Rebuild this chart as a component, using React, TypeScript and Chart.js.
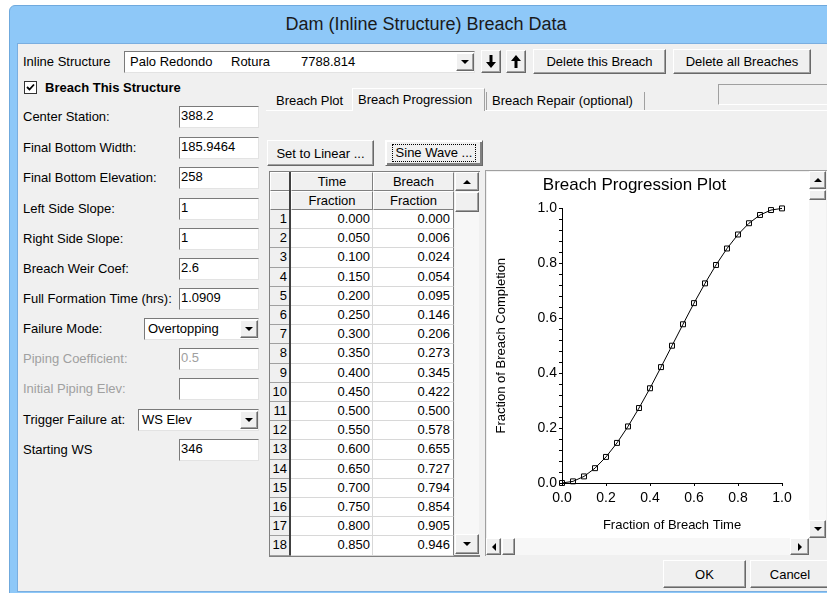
import React, { useEffect, useRef } from 'react';
import { Chart, registerables } from 'chart.js';

Chart.register(...registerables);

// ---------------- data ----------------
const timeFractions = [0.0, 0.05, 0.1, 0.15, 0.2, 0.25, 0.3, 0.35, 0.4, 0.45, 0.5, 0.55, 0.6, 0.65, 0.7, 0.75, 0.8, 0.85, 0.9, 0.95, 1.0];
const breachFractions = [0.0, 0.006, 0.024, 0.054, 0.095, 0.146, 0.206, 0.273, 0.345, 0.422, 0.5, 0.578, 0.655, 0.727, 0.794, 0.854, 0.905, 0.946, 0.976, 0.994, 1.0];
const visibleTableRows = 18;
const chartTitle = 'Breach Progression Plot';
const xAxisTitle = 'Fraction of Breach Time';
const yAxisTitle = 'Fraction of Breach Completion';
const windowTitle = 'Dam (Inline Structure) Breach Data';

const fieldLabels = [
  'Center Station:',
  'Final Bottom Width:',
  'Final Bottom Elevation:',
  'Left Side Slope:',
  'Right Side Slope:',
  'Breach Weir Coef:',
  'Full Formation Time (hrs):',
  'Failure Mode:',
  'Piping Coefficient:',
  'Initial Piping Elev:',
  'Trigger Failure at:',
  'Starting WS',
];
const fieldValues = ['388.2', '185.9464', '258', '1', '1', '2.6', '1.0909', 'Overtopping', '0.5', '', 'WS Elev', '346'];
const fieldKinds = ['text', 'text', 'text', 'text', 'text', 'text', 'text', 'combo', 'disabled', 'disabled', 'combo', 'text'];
const fieldCenters = [117, 148, 178, 209, 239, 269, 299, 329, 359, 389, 420, 450];
const tabLabels = ['Breach Plot', 'Breach Progression', 'Breach Repair (optional)'];

const FONT = "'Liberation Sans', Arial, sans-serif";

type BoxProps = { x: number; y: number; w: number; h: number; style?: React.CSSProperties; children?: React.ReactNode };
const Box = ({ x, y, w, h, style, children }: BoxProps) => (
  <div style={{ position: 'absolute', left: x, top: y, width: w, height: h, boxSizing: 'border-box', ...style }}>{children}</div>
);

const Text = ({ x, cy, children, style }: { x: number; cy: number; children: React.ReactNode; style?: React.CSSProperties }) => (
  <div style={{ position: 'absolute', left: x, top: cy - 8, height: 16, lineHeight: '16px', whiteSpace: 'pre', fontSize: 13, ...style }}>{children}</div>
);

const raised: React.CSSProperties = {
  background: '#f0f0f0',
  border: '1px solid',
  borderColor: '#ffffff #696969 #696969 #ffffff',
  boxShadow: 'inset -1px -1px 0 #a0a0a0',
};
const sunken: React.CSSProperties = {
  background: '#ffffff',
  border: '1px solid',
  borderColor: '#7a7a7a #e3e3e3 #e3e3e3 #7a7a7a',
};

const Button = ({ x, y, w, h, label, focus }: { x: number; y: number; w: number; h: number; label: string; focus?: boolean }) => (
  <Box x={x} y={y} w={w} h={h} style={{ ...raised, ...(focus ? { border: '1px solid #404040', boxShadow: 'inset 1px 1px 0 #fff, inset -2px -2px 0 #808080' } : {}) }}>
    <div style={{ position: 'absolute', left: 0, right: 0, top: 0, bottom: 0, display: 'flex', alignItems: 'center', justifyContent: 'center', fontSize: 13 }}>
      {focus ? (
        <span style={{ border: '1px dotted #000', padding: '0 3px', lineHeight: '16px' }}>{label}</span>
      ) : (
        label
      )}
    </div>
  </Box>
);

const Tri = ({ dir }: { dir: 'up' | 'down' | 'left' | 'right' }) => {
  const s: React.CSSProperties = { width: 0, height: 0 };
  if (dir === 'down') Object.assign(s, { borderLeft: '4px solid transparent', borderRight: '4px solid transparent', borderTop: '4px solid #000' });
  if (dir === 'up') Object.assign(s, { borderLeft: '4px solid transparent', borderRight: '4px solid transparent', borderBottom: '4px solid #000' });
  if (dir === 'left') Object.assign(s, { borderTop: '4px solid transparent', borderBottom: '4px solid transparent', borderRight: '4px solid #000' });
  if (dir === 'right') Object.assign(s, { borderTop: '4px solid transparent', borderBottom: '4px solid transparent', borderLeft: '4px solid #000' });
  return <div style={s} />;
};

const ArrowBtn = ({ x, y, w, h, dir }: { x: number; y: number; w: number; h: number; dir: 'up' | 'down' | 'left' | 'right' }) => (
  <Box x={x} y={y} w={w} h={h} style={raised}>
    <div style={{ position: 'absolute', inset: 0, display: 'flex', alignItems: 'center', justifyContent: 'center' }}>
      <Tri dir={dir} />
    </div>
  </Box>
);

const Combo = ({ x, y, w, h, value, textX }: { x: number; y: number; w: number; h: number; value: React.ReactNode; textX?: number }) => (
  <Box x={x} y={y} w={w} h={h} style={sunken}>
    <div style={{ position: 'absolute', left: textX ?? 2, top: 0, height: h - 2, lineHeight: `${h - 2}px`, fontSize: 13, whiteSpace: 'pre' }}>{value}</div>
    <ArrowBtn x={w - 20} y={1} w={18} h={h - 4} dir="down" />
  </Box>
);

const BoldArrow = ({ up }: { up?: boolean }) => (
  <svg width="10" height="13" viewBox="0 0 10 13" style={{ display: 'block' }}>
    {up ? (
      <path d="M5 0 L10 6 L6.5 6 L6.5 13 L3.5 13 L3.5 6 L0 6 Z" fill="#000" />
    ) : (
      <path d="M5 13 L10 7 L6.5 7 L6.5 0 L3.5 0 L3.5 7 L0 7 Z" fill="#000" />
    )}
  </svg>
);

const ProgressChart = () => {
  const ref = useRef<HTMLCanvasElement | null>(null);
  useEffect(() => {
    if (!ref.current) return;
    const chart = new Chart(ref.current, {
      type: 'line',
      data: {
        datasets: [
          {
            data: timeFractions.map((t, i) => ({ x: t, y: breachFractions[i] })),
            borderColor: '#000',
            borderWidth: 1,
            pointStyle: 'rect',
            pointRadius: 3.5,
            pointBorderWidth: 1,
            pointBorderColor: '#000',
            pointBackgroundColor: 'rgba(255,255,255,0)',
            tension: 0,
            fill: false,
            clip: false,
          },
        ],
      },
      options: {
        responsive: false,
        animation: false,
        devicePixelRatio: 1,
        layout: { padding: { left: 0, right: 27, top: 0, bottom: 0 } },
        plugins: {
          legend: { display: false },
          tooltip: { enabled: false },
          title: {
            display: true,
            text: chartTitle,
            color: '#000',
            font: { family: FONT, size: 17, weight: 'normal' },
            padding: { top: 3, bottom: 13 },
          },
        },
        scales: {
          x: {
            type: 'linear',
            min: 0,
            max: 1,
            afterFit: (s: any) => {
              s.height = 55;
            },
            ticks: {
              stepSize: 0.2,
              color: '#000',
              font: { family: FONT, size: 14 },
              padding: 4,
              maxRotation: 0,
              autoSkip: false,
              callback: (v: any) => Number(v).toFixed(1),
            },
            grid: { drawOnChartArea: false, drawTicks: true, tickLength: 3, color: '#000' },
            border: { display: true, color: '#000', width: 1 },
            title: {
              display: true,
              text: xAxisTitle,
              color: '#000',
              font: { family: FONT, size: 13 },
              padding: { top: 0, bottom: 5 },
            },
          },
          y: {
            type: 'linear',
            min: 0,
            max: 1,
            afterFit: (s: any) => {
              s.width = 75;
            },
            ticks: {
              stepSize: 0.04,
              color: '#000',
              font: { family: FONT, size: 14 },
              padding: 2,
              autoSkip: false,
              callback: (v: any) => {
                const n = Number(v) * 5;
                return Math.abs(n - Math.round(n)) < 1e-6 ? Number(v).toFixed(1) : '';
              },
            },
            grid: { drawOnChartArea: false, drawTicks: true, tickLength: 3, color: '#000' },
            border: { display: true, color: '#000', width: 1 },
            title: {
              display: true,
              text: yAxisTitle,
              color: '#000',
              font: { family: FONT, size: 13 },
              padding: { top: 7, bottom: 0 },
            },
          },
        },
      } as any,
    });
    return () => chart.destroy();
  }, []);
  return <canvas ref={ref} width={322} height={366} style={{ display: 'block', width: 322, height: 366 }} />;
};

export default function App() {
  useEffect(() => {
    document.body.style.margin = '0';
  }, []);

  const rowTop = (i: number) => 210 + i * 19.2;

  return (
    <div style={{ position: 'fixed', left: 0, top: 0, width: 827, height: 593, background: '#ffffff', overflow: 'hidden', fontFamily: FONT, color: '#000' }}>
      {/* window frame */}
      <Box x={9} y={5} w={830} h={590} style={{ background: '#8ec8f8', border: '1px solid #6fa9dd', borderTopLeftRadius: 6 }} />
      <div style={{ position: 'absolute', left: 0, width: 852, top: 12, height: 24, lineHeight: '24px', textAlign: 'center', fontSize: 18, color: '#1a1a1a' }}>{windowTitle}</div>
      {/* client */}
      <Box x={17} y={43} w={812} h={549} style={{ background: '#f0f0f0', borderTop: '1px solid #7aaee0', borderLeft: '1px solid #7aaee0', borderBottom: '1px solid #7aaee0' }} />

      {/* top row */}
      <Text x={23} cy={62}>Inline Structure</Text>
      <Combo
        x={124}
        y={51}
        w={351}
        h={22}
        value={
          <>
            <span style={{ position: 'absolute', left: 3 }}>Palo Redondo</span>
            <span style={{ position: 'absolute', left: 104 }}>Rotura</span>
            <span style={{ position: 'absolute', left: 174 }}>7788.814</span>
          </>
        }
      />
      <Box x={481} y={50} w={20} h={23} style={raised}>
        <div style={{ position: 'absolute', inset: 0, display: 'flex', alignItems: 'center', justifyContent: 'center' }}>
          <BoldArrow />
        </div>
      </Box>
      <Box x={506} y={50} w={20} h={23} style={raised}>
        <div style={{ position: 'absolute', inset: 0, display: 'flex', alignItems: 'center', justifyContent: 'center' }}>
          <BoldArrow up />
        </div>
      </Box>
      <Button x={533} y={49} w={133} h={25} label="Delete this Breach" />
      <Button x={673} y={49} w={138} h={25} label="Delete all Breaches" />

      {/* checkbox */}
      <Box x={24} y={81} w={13} h={13} style={{ background: '#fff', border: '1px solid #333' }}>
        <svg width="11" height="11" viewBox="0 0 11 11" style={{ position: 'absolute', left: 0, top: 0 }}>
          <path d="M2 5 L4.5 7.5 L9 2.5" stroke="#000" strokeWidth="1.8" fill="none" />
        </svg>
      </Box>
      <Text x={45} cy={88} style={{ fontWeight: 'bold' }}>Breach This Structure</Text>

      {/* left form */}
      {fieldLabels.map((lab, i) => {
        const cy = fieldCenters[i];
        const kind = fieldKinds[i];
        const disabled = kind === 'disabled';
        return (
          <React.Fragment key={lab}>
            <Text x={23} cy={cy} style={{ color: disabled ? '#a0a0a0' : '#000' }}>{lab}</Text>
            {kind === 'combo' ? (
              <Combo x={i === 7 ? 144 : 138} y={cy - 11} w={i === 7 ? 115 : 121} h={22} value={fieldValues[i]} textX={3} />
            ) : (
              <Box x={179} y={cy - 11} w={80} h={22} style={sunken}>
                <div style={{ position: 'absolute', left: 1, top: 0, lineHeight: '18px', fontSize: 13, color: disabled ? '#a0a0a0' : '#000' }}>{fieldValues[i]}</div>
              </Box>
            )}
          </React.Fragment>
        );
      })}

      {/* tabs */}
      <Box x={352} y={88} w={133} h={23} style={{ background: '#f0f0f0', borderTop: '1px solid #fff', borderLeft: '1px solid #fff', borderRight: '1px solid #a0a0a0' }} />
      <Text x={276} cy={101}>{tabLabels[0]}</Text>
      <Text x={358} cy={100}>{tabLabels[1]}</Text>
      <Box x={486} y={92} w={1} h={18} style={{ background: '#a0a0a0' }} />
      <Text x={492} cy={101}>{tabLabels[2]}</Text>
      <Box x={644} y={92} w={1} h={18} style={{ background: '#a0a0a0' }} />
      <Box x={266} y={110} w={86} h={1} style={{ background: '#fff' }} />
      <Box x={485} y={110} w={342} h={1} style={{ background: '#fff' }} />
      <Box x={718} y={84} w={115} h={21} style={{ border: '1px solid', borderColor: '#a0a0a0 #fff #fff #a0a0a0' }} />

      {/* progression buttons */}
      <Button x={267} y={140} w={107} h={26} label="Set to Linear ..." />
      <Button x={385} y={140} w={98} h={26} label="Sine Wave ..." focus />

      {/* table */}
      <Box x={269} y={171} w={211} h={386} style={{ background: '#f0f0f0', borderLeft: '1px solid #808080', borderTop: '1px solid #808080', borderBottom: '2px solid #808080' }} />
      <Box x={291} y={210} w={163} h={345} style={{ background: '#fff' }} />
      {/* header */}
      {[
        [270, 21],
        [291, 82],
        [373, 81],
      ].map(([x, w], k) => (
        <React.Fragment key={'h' + k}>
          <Box x={x} y={172} w={w} h={19} style={{ border: '1px solid', borderColor: '#fff #808080 #808080 #fff' }}>
            {k > 0 && <div style={{ textAlign: 'center', lineHeight: '17px', fontSize: 13 }}>{k === 1 ? 'Time' : 'Breach'}</div>}
          </Box>
          <Box x={x} y={191} w={w} h={19} style={{ border: '1px solid', borderColor: '#fff #808080 #808080 #fff' }}>
            {k > 0 && <div style={{ textAlign: 'center', lineHeight: '17px', fontSize: 13 }}>Fraction</div>}
          </Box>
        </React.Fragment>
      ))}
      <Box x={289} y={172} w={2} h={383} style={{ background: '#404040' }} />
      {timeFractions.slice(0, visibleTableRows).map((t, i) => (
        <React.Fragment key={'r' + i}>
          <Box x={270} y={rowTop(i)} w={19} h={19.2} style={{ borderBottom: '1px solid #a0a0a0' }}>
            <div style={{ textAlign: 'right', paddingRight: 2, lineHeight: '18px', fontSize: 13 }}>{i + 1}</div>
          </Box>
          <Box x={291} y={rowTop(i)} w={82} h={19.2} style={{ borderBottom: '1px solid #d8d8d8', borderRight: '1px solid #d8d8d8' }}>
            <div style={{ textAlign: 'right', paddingRight: 2, lineHeight: '18px', fontSize: 13 }}>{t.toFixed(3)}</div>
          </Box>
          <Box x={373} y={rowTop(i)} w={81} h={19.2} style={{ borderBottom: '1px solid #d8d8d8', borderRight: '1px solid #808080' }}>
            <div style={{ textAlign: 'right', paddingRight: 3, lineHeight: '18px', fontSize: 13 }}>{breachFractions[i].toFixed(3)}</div>
          </Box>
        </React.Fragment>
      ))}
      {/* table scrollbar */}
      <Box x={455} y={172} w={24} h={382} style={{ background: '#f7f7f7' }} />
      <ArrowBtn x={455} y={172} w={24} h={19} dir="up" />
      <Box x={455} y={192} w={24} h={20} style={raised} />
      <ArrowBtn x={455} y={534} w={24} h={20} dir="down" />

      {/* plot panel */}
      <Box x={485} y={170} w={342} h={386} style={{ background: '#f0f0f0', borderLeft: '1px solid #a0a0a0', borderTop: '1px solid #a0a0a0' }} />
      <Box x={487} y={172} w={322} h={366} style={{ background: '#fff' }}>
        <ProgressChart />
      </Box>
      <Box x={809} y={171} w={17} h={367} style={{ background: '#f7f7f7' }} />
      <ArrowBtn x={809} y={171} w={17} h={18} dir="up" />
      <Box x={809} y={190} w={17} h={10} style={raised} />
      <ArrowBtn x={809} y={520} w={17} h={18} dir="down" />
      <Box x={486} y={538} w={323} h={17} style={{ background: '#f7f7f7' }} />
      <ArrowBtn x={486} y={538} w={15} h={17} dir="left" />
      <Box x={502} y={538} w={13} h={17} style={raised} />
      <ArrowBtn x={790} y={538} w={19} h={17} dir="right" />

      {/* bottom buttons */}
      <Button x={663} y={560} w={83} h={28} label="OK" />
      <Button x={750} y={560} w={80} h={28} label="Cancel" />
    </div>
  );
}
